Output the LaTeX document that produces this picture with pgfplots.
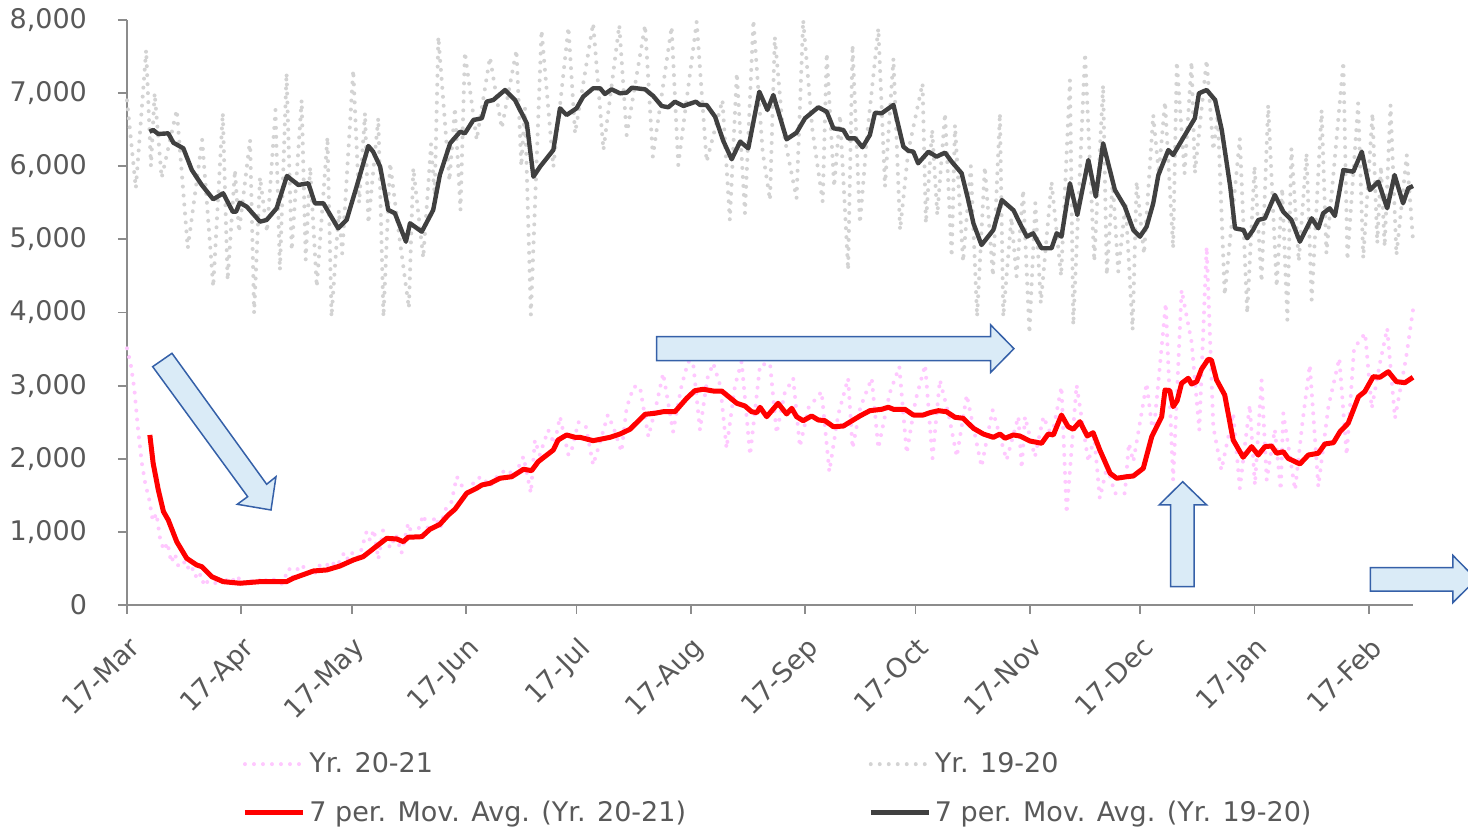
\documentclass[border=0pt]{standalone}
\usepackage{pgfplots}
\pgfplotsset{compat=1.18}
\usepackage{pgfplotstable}
\usepackage{fontspec}
\setmainfont{DejaVu Sans}

\definecolor{txt}{HTML}{595959}
\definecolor{axisgray}{HTML}{8C8C8C}
\definecolor{pinkdot}{HTML}{FFC8FF}
\definecolor{graydot}{HTML}{D3D3D3}
\definecolor{mared}{HTML}{FF0000}
\definecolor{madark}{HTML}{404040}
\definecolor{arrowfill}{HTML}{DAEBF7}
\definecolor{arrowline}{HTML}{3560A8}

% daily counts, Yr. 20-21 (day 0 = 17-Mar)
\pgfplotstableread{
x y
0 3510
1 3300
2 2950
3 2400
4 1950
5 1650
6 1450
7 1150
8 1250
9 900
10 750
11 850
12 580
13 700
14 520
16 600
17 450
18 500
19 350
20 420
21 260
22 330
24 300
25 270
26 380
28 300
30 400
31 290
33 350
35 300
37 380
38 320
40 350
42 290
44 500
45 380
47 550
49 480
50.6 390
52 540
54 520
55 600
57 530
59 720
60 620
61.4 730
63 650
65 1000
66 880
67 1030
68.2 625
69.5 1025
71.4 780
73 960
74.5 710
76.3 1117
78 870
80.4 1231
82 1000
83.6 1210
85 1050
86.3 1300
88 1400
89.5 1755
91 1620
92.2 1480
94.4 1710
96.3 1755
98.5 1620
101 1800
103.5 1850
105 1750
107.6 2030
109.6 1530
110.7 2256
112 2050
114.3 2393
116 2200
117.5 2575
119.8 2051
120.5 2080
122.5 2500
124.5 2447
126.5 1915
128 2165
130.5 2600
132 2430
134.2 2096
135.6 2700
137.5 2985
139.2 2985
141.5 2302
143.5 2700
145.5 3168
148.2 2370
150.5 3000
152.3 3327
153.6 3327
155.5 2393
157.5 3100
159.1 3305
161 3000
162.7 2143
165 3000
166.8 3327
169.1 2051
171.8 3282
174.5 3305
176.3 2348
178.5 2900
180.8 3100
182.6 2165
185 2700
188.5 2917
190.6 1823
193 2600
195.7 3100
196.9 2143
199 2700
202.1 3100
203.9 2143
207 2900
209.6 3259
211.6 2075
214 2800
216.6 3282
218.6 2006
220.6 3077
223 2600
225.2 2028
227.9 2872
231.9 1891
234.9 2667
238.7 1983
241.9 2575
242.8 1869
243.7 2575
246.4 2028
248.7 2575
251 2300
253.6 2985
255 1254
257.7 3008
260.9 1960
262.5 2300
264 1459
266 1900
268.1 1527
270.8 1527
271.9 2211
273.1 1960
276.7 3032
278.5 2300
281.9 4126
283.9 1709
286.2 4308
288.9 3600
291 2393
293 4900
294.8 2438
297 1846
300.2 2621
302 1596
304.7 2735
306.1 1641
307.9 3077
309.3 1709
311.5 2400
313.1 1573
313.8 2621
317 1573
319 2500
321 3282
323.3 1618
326 2700
329 3374
331 2051
333 3510
336 3716
337.8 2690
340 3300
342 3784
344.1 2553
347.1 3374
349 4034
}\pinkraw

% daily counts, Yr. 19-20
\pgfplotstableread{
x y
0 6900
2.4 5700
5.2 7590
6.5 6000
7.5 7000
9.4 5840
13.5 6770
16.5 4880
20.4 6360
23.4 4350
26 6730
27.3 4440
29.3 5950
30.4 5100
33.4 6360
34.5 3990
36.1 5850
38 5100
40.3 6770
41.5 4580
43.3 7275
44.7 4850
47.4 6906
48.5 4720
49.7 5990
51.5 4350
54.4 6400
55.5 3940
57.5 5400
58.4 4810
61.4 7316
63 5500
64.6 6730
65.5 5220
68.2 6660
69.6 3940
71.4 6045
74 5000
76.5 4060
77.7 5975
80.4 4745
82.5 6300
83.5 5600
84.5 7770
87.5 5800
89 6800
90.5 5400
91.7 7560
94.9 6360
98.5 7490
101.7 6520
105.7 7590
107 6000
108 6800
109.6 3965
112.5 7860
115.7 5990
119.8 7900
121.6 6450
126.5 7955
129.3 6222
133.6 7930
135.6 6427
140.6 7930
142.7 6131
147.8 7908
149.6 6017
154.6 7977
157.3 6062
161.6 6906
163.6 5265
165.5 7275
167.7 5356
170 8000
172.5 6200
174.5 5538
175.8 7770
178 6500
181.7 5561
183.5 8000
186 6500
188.8 5515
189.9 7545
191.9 5720
193.5 6700
195.7 4581
196.9 7658
198.9 5220
201 6500
203.9 7886
205.7 5720
208 7476
209.8 5128
212 6200
215.9 7134
216.8 5220
218.5 6500
219.9 5333
222 6724
223.8 4763
224.7 6564
226.9 4695
229 6000
230.7 3943
232.8 5994
235 4500
236.9 6724
237.8 3943
240 5300
241.4 4490
243.2 5675
244.9 3715
246.5 5497
248 4126
250.9 5789
253.5 4500
255.9 7179
256.8 3829
260 7545
262.5 4700
264.9 7111
265.9 4513
267.5 5800
269 4558
271 5500
272.9 3760
274 5789
276 4800
278.5 6701
280 5900
281.7 6883
283.9 4878
284.9 7430
287 5900
288.9 7430
289.8 5904
293 7453
294.8 6222
296 6700
297.9 4239
302 6382
304 3989
306 6000
307.9 4421
309.7 6838
312 4353
313.5 5700
314.9 3897
316 6245
318 4700
320.1 6177
321.5 4171
324.2 6769
325.5 4809
330.1 7430
331.2 4718
334.1 6860
335.5 4741
338 6724
339.3 4946
340.3 6000
341.3 4900
342.9 6838
344.5 4786
347.3 6154
349 4991
}\grayraw

% 7 per. moving average, Yr. 20-21
\pgfplotstableread{
x y
6.2 2325
7.1 1938
8.5 1573
9.9 1276
11.2 1162
13.5 865
16.2 638
18.9 547
20.3 524
23.0 387
26.1 319
30.7 297
36.1 319
40.6 319
43.3 319
45.1 365
50.6 465
54.2 479
57.8 533
61.4 615
64.1 661
67.8 807
70.5 911
73.2 903
75.0 866
76.3 926
80.0 934
82.2 1035
84.9 1103
87.2 1231
89.0 1309
92.2 1529
94.9 1597
96.3 1641
98.5 1664
101.2 1733
104.4 1754
107.6 1856
109.8 1837
111.6 1960
115.7 2120
117.0 2256
119.3 2325
121.6 2293
122.9 2293
126.5 2247
131.1 2293
133.8 2338
136.5 2403
140.6 2608
143.3 2622
145.5 2643
148.7 2643
151.9 2827
154.1 2931
156.4 2950
159.1 2926
161.4 2926
165.5 2758
167.7 2721
169.5 2643
170.9 2630
171.8 2704
173.6 2575
176.7 2758
179.0 2612
180.4 2690
181.7 2575
183.5 2520
185.8 2585
187.6 2530
189.4 2520
191.7 2438
194.4 2447
197.1 2530
198.9 2585
201.6 2657
204.8 2676
206.6 2704
208.0 2676
211.1 2676
213.4 2598
216.1 2598
217.9 2630
220.2 2657
222.4 2643
224.7 2567
226.9 2553
229.7 2416
232.4 2338
235.1 2293
236.9 2338
238.3 2280
240.5 2325
242.3 2311
245.0 2243
248.2 2211
250.0 2338
251.4 2325
253.6 2598
255.4 2438
256.8 2403
258.6 2507
260.6 2311
262.2 2356
264.0 2120
266.8 1801
268.6 1733
271.3 1754
273.1 1764
275.8 1869
278.1 2302
280.8 2575
281.7 2940
283.0 2931
283.9 2712
285.0 2794
286.2 3032
288.0 3100
288.9 3022
290.3 3054
291.6 3223
293.4 3360
294.3 3350
295.7 3077
297.9 2872
300.2 2256
302.9 2020
305.2 2165
307.0 2051
308.8 2165
310.6 2174
312.0 2075
313.8 2096
315.1 2006
318.3 1928
320.6 2051
323.3 2075
325.1 2202
327.4 2219
329.2 2370
331.4 2485
334.2 2848
335.9 2917
338.2 3122
340.0 3114
342.3 3190
344.5 3054
346.8 3040
349.0 3114
}\redavg

% 7 per. moving average, Yr. 19-20
\pgfplotstableread{
x y
6.1 6472
7.1 6496
8.5 6441
11.2 6450
12.6 6321
15.3 6245
17.6 5948
20.3 5743
23.4 5548
26.1 5630
28.7 5378
29.6 5378
30.6 5501
32.5 5447
36.1 5242
37.9 5265
40.6 5425
43.4 5867
46.5 5744
49.2 5767
51.0 5493
53.3 5493
57.3 5151
59.6 5265
62.3 5720
65.5 6277
66.8 6199
68.7 5994
70.9 5402
72.7 5357
75.7 4968
76.8 5220
80.0 5105
83.1 5402
84.9 5880
87.7 6314
90.4 6472
91.7 6450
94.0 6632
96.3 6656
97.6 6883
99.4 6906
102.6 7043
105.3 6906
108.5 6587
110.3 5857
112.1 5994
115.7 6222
117.5 6792
119.3 6701
122.0 6792
123.8 6951
126.5 7066
128.4 7066
129.7 6988
131.5 7052
133.8 6997
135.6 7006
137.0 7074
140.6 7052
142.8 6961
145.1 6824
146.9 6806
148.7 6883
151.0 6824
154.4 6883
155.5 6838
157.3 6838
159.6 6677
161.8 6349
164.1 6095
166.4 6336
168.6 6245
171.6 7019
173.8 6769
175.4 6974
179.0 6368
181.7 6459
184.0 6656
187.6 6806
189.9 6746
191.7 6519
194.4 6496
195.7 6382
197.6 6382
199.6 6259
201.6 6427
203.0 6732
204.8 6724
208.0 6838
210.7 6268
212.0 6213
213.4 6199
214.7 6040
217.5 6199
219.7 6131
222.0 6186
223.8 6062
226.5 5904
228.3 5538
229.7 5220
231.9 4923
235.1 5128
237.4 5538
240.6 5397
242.3 5220
244.2 5037
245.9 5083
248.2 4878
250.9 4878
252.3 5083
253.6 5037
255.9 5767
257.9 5333
260.9 6085
262.9 5584
264.9 6314
268.1 5675
270.8 5447
273.1 5128
274.9 5037
276.7 5173
278.5 5493
279.9 5880
282.6 6222
283.9 6154
287.1 6427
289.8 6656
290.9 6997
293.0 7043
295.3 6906
297.1 6496
299.4 5720
300.7 5151
303.0 5128
304.0 5015
305.6 5128
307.0 5265
308.8 5288
311.5 5607
313.8 5378
316.0 5265
318.3 4968
321.5 5288
323.3 5151
324.6 5356
326.4 5425
327.8 5320
330.1 5949
332.8 5925
335.1 6199
337.3 5675
339.6 5789
342.0 5425
344.0 5880
346.3 5493
347.7 5698
349.0 5730
}\darkavg

\begin{document}
\begin{tikzpicture}
\begin{axis}[
    scale only axis,
    width=643pt, height=292.5pt,
    xmin=0, xmax=349, ymin=0, ymax=8000,
    clip=false,
    axis x line=bottom, axis y line=left,
    axis line style={-, draw=axisgray, line width=0.9pt},
    tick align=outside,
    major tick length=4.5pt,
    tick style={draw=axisgray, line width=0.9pt},
    xtick={0,31,61,92,122,153,184,214,245,275,306,337},
    xticklabels={17-Mar,17-Apr,17-May,17-Jun,17-Jul,17-Aug,17-Sep,17-Oct,17-Nov,17-Dec,17-Jan,17-Feb},
    ytick={0,1000,...,8000},
    tick label style={font=\fontsize{13.5}{16}\selectfont, text=txt},
    yticklabel style={xshift=-12pt},
    xticklabel style={rotate=45, anchor=north east, inner sep=0pt, xshift=-7.3pt, yshift=-7.5pt},
    /pgf/number format/1000 sep={,},
    /pgf/number format/fixed,
    /pgf/number format/assume math mode=true,
    legend columns=2,
    legend cell align=left,
    legend image code/.code={\draw[#1] (0pt,0pt) -- (29pt,0pt);},
    legend style={at={(axis description cs:0.507,-0.3135)}, anchor=center,
        draw=none, fill=none, text=txt,
        font=\fontsize{13.5}{16}\selectfont, row sep=8.5pt,
        /tikz/every even column/.append style={column sep=89.25pt}},
]
\addplot[pinkdot, line width=2pt, dash pattern=on 0pt off 4.5pt, line cap=round] table {\pinkraw};
\addlegendentry{Yr. 20-21}
\addplot[graydot, line width=2pt, dash pattern=on 0pt off 4.5pt, line cap=round] table {\grayraw};
\addlegendentry{Yr. 19-20}
\addplot[mared, line width=2.5pt, line join=round] table {\redavg};
\addlegendentry{7 per. Mov. Avg. (Yr. 20-21)}
\addplot[madark, line width=2.2pt, line join=round] table {\darkavg};
\addlegendentry{7 per. Mov. Avg. (Yr. 19-20)}

% block arrows
\draw[fill=arrowfill, draw=arrowline, line width=0.75pt]
    (6.97,3259) -- (12.21,3442) -- (37.9,1651) -- (40.43,1754) -- (39.08,1299)
    -- (29.93,1377) -- (32.75,1481) -- cycle;
\draw[fill=arrowfill, draw=arrowline, line width=0.75pt]
    (143.7,3669) -- (234.4,3669) -- (234.4,3829) -- (240.7,3505)
    -- (234.4,3182) -- (234.4,3341) -- (143.7,3341) -- cycle;
\draw[fill=arrowfill, draw=arrowline, line width=0.75pt]
    (283.2,250) -- (283.2,1368) -- (280.1,1368) -- (286.5,1686)
    -- (293.0,1368) -- (289.6,1368) -- (289.6,250) -- cycle;
\draw[fill=arrowfill, draw=arrowline, line width=0.75pt]
    (337.4,510) -- (359.8,510) -- (359.8,679) -- (366.2,352)
    -- (359.8,31) -- (359.8,191) -- (337.4,191) -- cycle;
\end{axis}
\pgfresetboundingbox
\path[use as bounding box] ([shift={(-63.5pt,-115pt)}]current axis.south west)
    rectangle ([shift={(27.5pt,10pt)}]current axis.north east);
\end{tikzpicture}
\end{document}
